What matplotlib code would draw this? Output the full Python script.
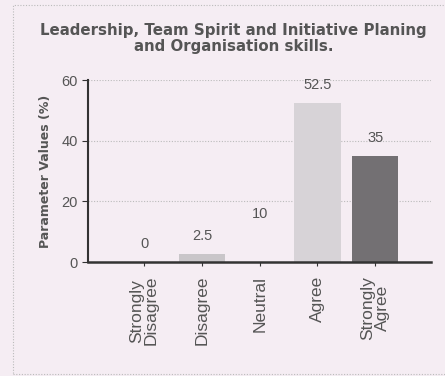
import matplotlib
matplotlib.use("Agg")
import matplotlib.pyplot as plt
from matplotlib.patches import Rectangle

categories = ["Strongly\nDisagree", "Disagree", "Neutral", "Agree", "Strongly\nAgree"]
values = [0, 2.5, 10, 52.5, 35]
bar_colors = ["#c9c6c9", "#c9c6c9", "#f5edf3", "#d7d3d7", "#737073"]
y_ticks = [0, 20, 40, 60]

bg = "#f5edf3"
text_col = "#555555"

fig = plt.figure(figsize=(4.45, 3.76), dpi=100, facecolor=bg)
ax = fig.add_axes([0.198, 0.303, 0.771, 0.484], facecolor=bg)

x = list(range(len(categories)))
ax.bar(x, values, width=0.8, color=bar_colors, edgecolor="none", zorder=2)

for xi, v in zip(x, values):
    ax.annotate(f"{v:g}", (xi, v), xytext=(0, 13), textcoords="offset points",
                ha="center", va="center", fontsize=10.5, color=text_col,
                family="Liberation Sans")

ax.set_xlim(-0.97, 4.97)
ax.set_ylim(0, 60)
ax.set_yticks(y_ticks)
ax.set_xticks(x)
ax.set_xticklabels(categories, rotation=90, fontsize=12.5, color=text_col,
                   family="Liberation Sans", linespacing=0.95)
ax.tick_params(axis="y", labelsize=10.5, labelcolor=text_col, color="#333333",
               length=4, width=0.8)
ax.tick_params(axis="x", color="#333333", length=3, width=0.8, pad=7)
for lab in ax.get_yticklabels():
    lab.set_family("Liberation Sans")

ax.grid(axis="y", linestyle=(0, (1, 1.5)), color="#bbbbbb", linewidth=0.8, zorder=0)
for s in ["top", "right"]:
    ax.spines[s].set_visible(False)
ax.spines["left"].set_linewidth(1.5)
ax.spines["left"].set_color("#333333")
ax.spines["bottom"].set_linewidth(1.8)
ax.spines["bottom"].set_color("#333333")

ax.set_ylabel("Parameter Values (%)", fontsize=9, fontweight="bold",
              color=text_col, labelpad=7)

fig.text(0.525, 0.897, "Leadership, Team Spirit and Initiative Planing\nand Organisation skills.",
         ha="center", va="center", fontsize=10.8, fontweight="bold", color=text_col,
         linespacing=1.1)

# dotted frame around the chart
fig.patches.append(Rectangle((13 / 445, 2 / 376), 440 / 445, 369 / 376,
                             transform=fig.transFigure, fill=False,
                             edgecolor="#bbbbbb", linestyle=(0, (1, 1.5)),
                             linewidth=0.8))

fig.savefig("out.png", dpi=100, facecolor=bg)
